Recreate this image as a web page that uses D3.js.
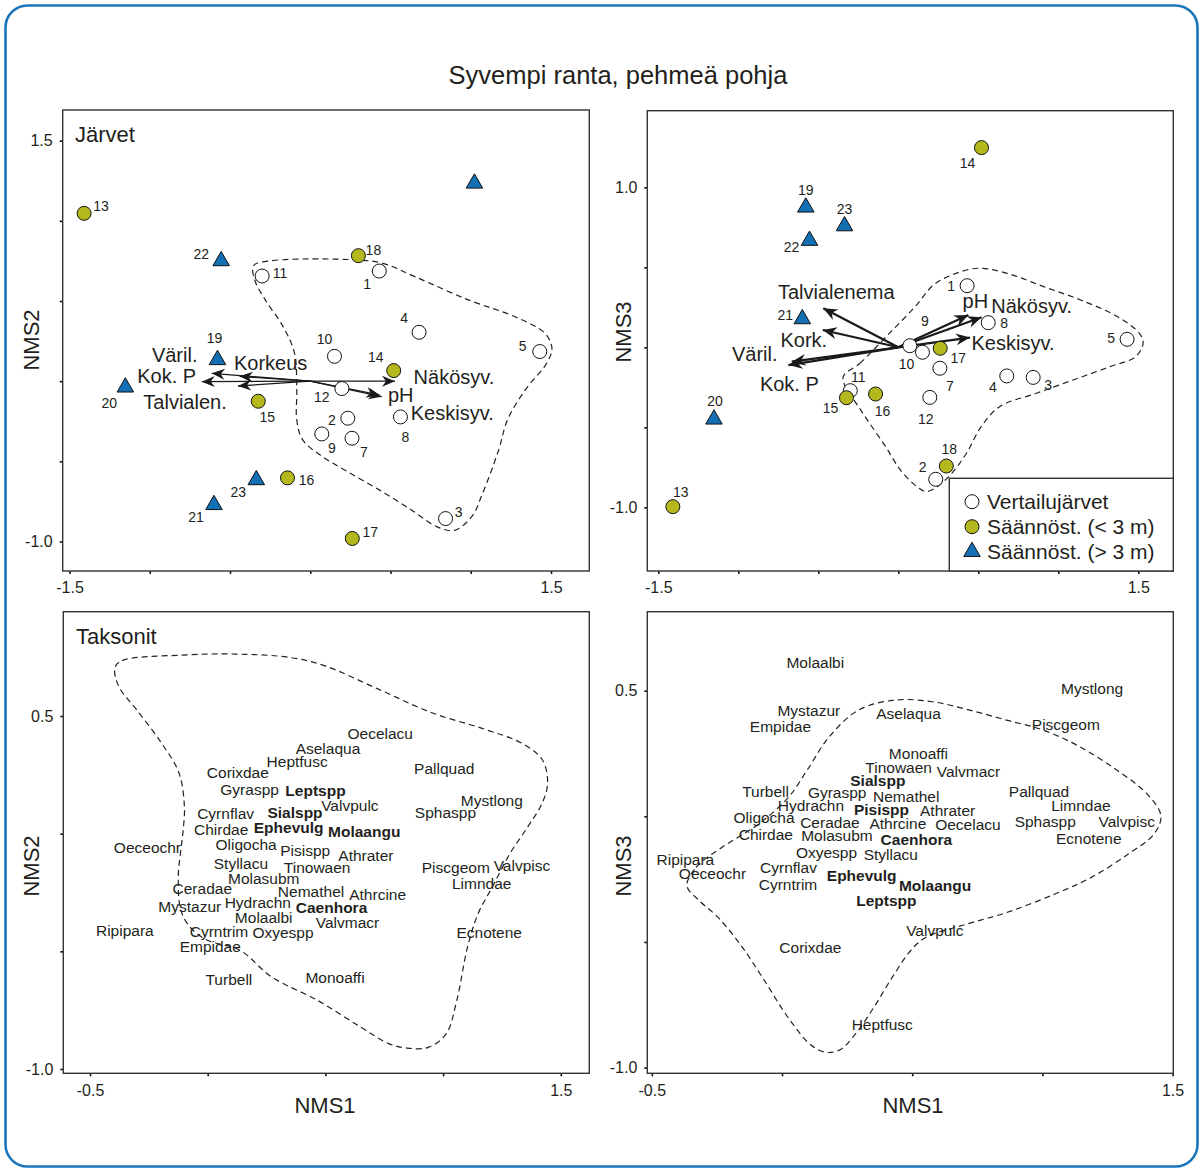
<!DOCTYPE html>
<html>
<head>
<meta charset="utf-8">
<script src="https://cdn.jsdelivr.net/npm/d3@7"></script>
<style>
  body { margin: 0; background: #fff; }
  svg { display: block; font-family: "Liberation Sans", Arial, Helvetica, sans-serif; }
</style>
</head>
<body>
<svg id="chart" width="1203" height="1173"></svg>
<script>
// ---------------- Lakes (sample units) ----------------
const lakeIds   = [1, 2, 3, 4, 5, 7, 8, 9, 10, 11, 12, 13, 14, 15, 16, 17, 18, 19, 20, 21, 22, 23];
const lakeGroup = ["ref","ref","ref","ref","ref","ref","ref","ref","ref","ref","ref",
                   "low","low","low","low","low","low",
                   "high","high","high","high","high"];
const lakeNMS1  = [0.43, 0.234, 0.843, 0.678, 1.43, 0.26, 0.562, 0.072, 0.151, -0.30, 0.197,
                   -1.409, 0.52, -0.324, -0.142, 0.262, 0.30,
                   -0.578, -1.152, -0.60, -0.555, -0.336];
const lakeNMS2  = [0.687, -0.231, -0.857, 0.305, 0.185, -0.356, -0.223, -0.329, 0.155, 0.656, -0.046,
                   1.047, 0.066, -0.125, -0.603, -0.981, 0.783,
                   0.133, -0.038, -0.771, 0.750, -0.616];
const lakeNMS3  = [0.385, -0.825, -0.188, -0.179, 0.050, -0.131, 0.154, 0.010, -0.031, -0.271, -0.313,
                   -0.996, 1.248, -0.315, -0.292, -0.006, -0.742,
                   0.875, -0.450, 0.177, 0.667, 0.758];
// extra unlabeled site shown only in the NMS1/NMS2 plot
const extraNMS1 = [1.023];
const extraNMS2 = [1.234];
const extraGroup = ["high"];

// ---------------- Environmental vectors ----------------
const envLabels12 = ["Väril.", "Kok. P", "Korkeus", "Talvialen.", "Näkösyv.", "pH", "Keskisyv."];
const envX12      = [-0.614, -0.676, -0.44, -0.45, 0.528, 0.445, 0.43];
const envY12      = [0.049, -0.003, 0.03, -0.03, 0.0, -0.097, -0.085];

const envLabels13 = ["Talvialenema", "Kork.", "Väril.", "Kok. P", "pH", "Näkösyv.", "Keskisyv."];
const envX13      = [-0.469, -0.472, -0.666, -0.687, 0.438, 0.521, 0.448];
const envY13      = [0.244, 0.108, -0.09, -0.111, 0.202, 0.188, 0.061];

// ---------------- Taxa ----------------
const taxa = ["Oecelacu","Aselaqua","Heptfusc","Corixdae","Pallquad","Gyraspp","Leptspp","Valvpulc",
  "Mystlong","Sphaspp","Cyrnflav","Sialspp","Chirdae","Ephevulg","Molaangu","Oeceochr","Oligocha",
  "Pisispp","Athrater","Styllacu","Tinowaen","Piscgeom","Valvpisc","Molasubm","Limndae","Ceradae",
  "Nemathel","Athrcine","Mystazur","Hydrachn","Caenhora","Molaalbi","Valvmacr","Ripipara","Cyrntrim",
  "Oxyespp","Ecnotene","Empidae","Turbell","Monoaffi"];
const taxaX12 = [0.733,0.511,0.380,0.128,1.005,0.178,0.458,0.604,1.207,1.010,0.076,0.371,0.057,0.344,
  0.665,-0.256,0.163,0.414,0.672,0.141,0.465,1.054,1.335,0.238,1.164,-0.023,0.439,0.722,-0.076,0.213,
  0.526,0.238,0.594,-0.352,0.048,0.320,1.196,0.011,0.090,0.541];
const taxaY12 = [0.426,0.362,0.305,0.261,0.278,0.187,0.183,0.119,0.140,0.088,0.085,0.088,0.019,0.024,
  0.009,-0.059,-0.047,-0.072,-0.093,-0.128,-0.143,-0.143,-0.136,-0.191,-0.212,-0.234,-0.244,-0.258,
  -0.308,-0.293,-0.315,-0.357,-0.379,-0.410,-0.414,-0.421,-0.419,-0.478,-0.620,-0.610];
const taxaX13 = [0.714,0.486,0.385,0.109,0.987,0.212,0.401,0.587,1.191,1.011,0.025,0.368,-0.062,0.306,
  0.588,-0.267,-0.069,0.382,0.636,0.418,0.448,1.090,1.324,0.211,1.148,0.184,0.477,0.445,0.103,0.111,
  0.516,0.128,0.716,-0.371,0.023,0.171,1.178,-0.006,-0.063,0.524];
const taxaY13 = [-0.033,0.409,-0.827,-0.523,0.099,0.094,-0.337,-0.456,0.509,-0.021,-0.203,0.143,-0.074,
  -0.237,-0.274,-0.227,-0.006,0.027,0.023,-0.154,0.196,0.367,-0.020,-0.078,0.043,-0.024,0.080,-0.028,
  0.419,0.043,-0.094,0.612,0.179,-0.174,-0.273,-0.146,-0.089,0.356,0.099,0.250];
const keyTaxa12 = ["Leptspp","Sialspp","Ephevulg","Molaangu","Caenhora"];
const keyTaxa13 = ["Sialspp","Pisispp","Caenhora","Ephevulg","Molaangu","Leptspp"];

// ---------------- Reference-lake envelopes ----------------
const hullLakesX12 = [-0.353,-0.235,0.297,0.453,0.652,0.985,1.273,1.462,1.506,1.473,1.340,1.229,1.174,
  1.074,1.007,0.896,0.785,0.630,0.430,0.231,0.075,-0.047,-0.084,-0.084,-0.098,-0.169,-0.280,-0.346];
const hullLakesY12 = [0.721,0.752,0.756,0.735,0.652,0.507,0.403,0.299,0.205,0.112,-0.054,-0.241,-0.429,
  -0.699,-0.844,-0.931,-0.906,-0.803,-0.678,-0.564,-0.470,-0.366,-0.242,-0.054,0.174,0.340,0.507,0.631];
const hullLakesX13 = [-0.344,-0.240,-0.056,0.105,0.220,0.334,0.495,0.679,0.909,1.139,1.369,1.507,1.530,
  1.484,1.323,1.093,0.863,0.633,0.518,0.426,0.334,0.243,0.174,0.116,0.013,-0.079,-0.194,-0.263,-0.321];
const hullLakesY13 = [-0.183,-0.100,0.0875,0.254,0.390,0.452,0.494,0.4625,0.379,0.296,0.192,0.0875,0.025,
  -0.058,-0.121,-0.204,-0.2875,-0.371,-0.496,-0.6625,-0.7875,-0.871,-0.902,-0.871,-0.767,-0.621,-0.454,-0.35,-0.267];
const hullTaxaX12 = [-0.394,-0.364,-0.107,0.120,0.347,0.498,0.725,0.952,1.179,1.331,1.421,1.444,1.421,
  1.361,1.285,1.210,1.149,1.104,1.058,1.013,0.937,0.846,0.771,0.650,0.468,0.272,0.135,-0.001,-0.076,
  -0.114,-0.125,-0.114,-0.104,-0.099,-0.122,-0.197,-0.303,-0.379];
const hullTaxaY12 = [0.706,0.735,0.759,0.763,0.749,0.713,0.614,0.514,0.443,0.386,0.315,0.216,0.130,
  0.031,-0.083,-0.225,-0.339,-0.481,-0.709,-0.851,-0.908,-0.911,-0.893,-0.822,-0.709,-0.609,-0.494,
  -0.453,-0.396,-0.325,-0.182,-0.069,0.017,0.116,0.258,0.386,0.528,0.628];
const hullTaxaX13 = [-0.365,-0.330,-0.230,-0.089,0.025,0.096,0.181,0.294,0.436,0.578,0.720,0.862,1.004,
  1.145,1.287,1.401,1.455,1.429,1.330,1.188,1.046,0.862,0.706,0.550,0.493,0.422,0.351,0.280,0.223,
  0.167,0.110,0.025,-0.074,-0.160,-0.245,-0.316];
const hullTaxaY13 = [-0.277,-0.203,-0.123,-0.030,0.076,0.183,0.316,0.423,0.463,0.456,0.423,0.383,0.343,
  0.276,0.183,0.090,0.003,-0.070,-0.150,-0.243,-0.310,-0.383,-0.430,-0.483,-0.536,-0.643,-0.763,
  -0.869,-0.929,-0.939,-0.909,-0.803,-0.643,-0.510,-0.403,-0.337];

// ---------------- Layout ----------------
const svg = d3.select("#chart");
const INK = "#231f20";
const FRAME = "#333333";
const COLORS = { ref: "#ffffff", low: "#b5b81c", high: "#1470b5" };

// label offsets (px) from a site marker to its number
const lakeLabelOffset12 = {13:[17,-7],22:[-20,-7],18:[15,-6],11:[18,-3],1:[-12,13],4:[-15,-14],5:[-17,-5],
  10:[-10,-17],14:[-18,-13],19:[-3,-22],20:[-16,16],12:[-20,9],15:[9,16],2:[-16,2],8:[5,20],9:[10,14],
  7:[12,14],16:[19,2],23:[-18,12],21:[-18,12],3:[13,-6],17:[18,-6]};
const lakeLabelOffset13 = {14:[-14,15],19:[0,-17],23:[0,-17],22:[-18,7],1:[-16,0],21:[-17,-4],8:[16,0],
  9:[15,-25],10:[-16,12],17:[18,10],7:[10,18],4:[-14,11],3:[15,8],5:[-16,-1],11:[8,-14],15:[-16,10],
  16:[7,17],12:[-4,22],20:[1,-18],18:[3,-17],2:[-13,-12],13:[8,-15]};
// label offsets (px) from a vector tip to its label centre
const envLabelOffset12 = [[-37,-18],[-35,-6],[31,-13],[-53,16],[59,-4],[19,-2],[73,18.5]];
const envLabelOffset13 = [[13,-16],[-19,10],[-37,-8],[1,19],[7,-14],[50,-11],[43,5]];

const panels = {
  p1: { box: [62.7, 110, 589.3, 571], xd: [-1.5, 1.5], xr: [69.5, 551], yd: [-1, 1.5], yr: [541.5, 140.7],
        xt: [-1.5,-1,-0.5,0,0.5,1,1.5], yt: [-1,-0.5,0,0.5,1,1.5], xl: [-1.5,1.5], yl: [-1,1.5] },
  p2: { box: [647.3, 110.7, 1173.3, 571], xd: [-1.5, 1.5], xr: [658.3, 1138.3], yd: [-1, 1], yr: [507.3, 187.3],
        xt: [-1.5,-1,-0.5,0,0.5,1,1.5], yt: [-1,-0.5,0,0.5,1], xl: [-1.5,1.5], yl: [-1,1] },
  p3: { box: [63.3, 611.7, 589.3, 1073.3], xd: [-0.5, 1.5], xr: [90, 560.8], yd: [-1, 0.5], yr: [1069, 716],
        xt: [-0.5,0,0.5,1,1.5], yt: [-1,-0.5,0,0.5], xl: [-0.5,1.5], yl: [-1,0.5] },
  p4: { box: [647.3, 611.7, 1173.3, 1073.3], xd: [-0.5, 1.5], xr: [651.8, 1172.6], yd: [-1, 0.5], yr: [1067.6, 690.7],
        xt: [-0.5,0,0.5,1,1.5], yt: [-1,-0.5,0,0.5], xl: [-0.5,1.5], yl: [-1,0.5] }
};
Object.values(panels).forEach(p => {
  p.x = d3.scaleLinear().domain(p.xd).range(p.xr);
  p.y = d3.scaleLinear().domain(p.yd).range(p.yr);
});

// outer rounded frame
svg.append("rect").attr("x", 5.5).attr("y", 5.5).attr("width", 1192).attr("height", 1161)
  .attr("rx", 22).attr("ry", 22).attr("fill", "#fff").attr("stroke", "#1b75bb").attr("stroke-width", 2.6);

svg.append("text").attr("x", 618).attr("y", 84).attr("text-anchor", "middle")
  .attr("font-size", 25.5).attr("fill", INK).text("Syvempi ranta, pehmeä pohja");

// arrowhead markers
const defs = svg.append("defs");
function arrowMarker(id, len, half, notch) {
  defs.append("marker").attr("id", id).attr("markerUnits", "userSpaceOnUse")
    .attr("viewBox", `${-len - 1} ${-half - 1} ${len + 2} ${2 * half + 2}`)
    .attr("markerWidth", len + 2).attr("markerHeight", 2 * half + 2)
    .attr("refX", 0).attr("refY", 0).attr("orient", "auto")
    .append("path").attr("d", `M0,0 L${-len},${-half} L${-notch},0 L${-len},${half} Z`).attr("fill", "#1a1a1a");
}
arrowMarker("headThin", 13, 5.5, 9);
arrowMarker("headThick", 14, 6, 9.5);

const fmt = d => d.toFixed(1);

function frame(p, xTitle, yTitle, yTitlePos, xTitlePos) {
  const g = svg.append("g");
  const [x0, y0, x1, y1] = p.box;
  const xAxis = d3.axisBottom(p.x).tickValues(p.xt).tickSize(3).tickPadding(8)
    .tickFormat(d => p.xl.includes(d) ? fmt(d) : "");
  const yAxis = d3.axisLeft(p.y).tickValues(p.yt).tickSize(3).tickPadding(7)
    .tickFormat(d => p.yl.includes(d) ? fmt(d) : "");
  const gx = g.append("g").attr("transform", `translate(0,${y1})`).call(xAxis);
  const gy = g.append("g").attr("transform", `translate(${x0},0)`).call(yAxis);
  [gx, gy].forEach(a => {
    a.select(".domain").remove();
    a.selectAll("line").attr("stroke", "#111").attr("stroke-width", 1.6);
    a.selectAll("text").attr("font-size", 16).attr("fill", INK)
      .attr("font-family", '"Liberation Sans", Arial, sans-serif');
  });
  g.append("rect").attr("x", x0).attr("y", y0).attr("width", x1 - x0).attr("height", y1 - y0)
    .attr("fill", "none").attr("stroke", FRAME).attr("stroke-width", 1.4);
  if (yTitle) {
    g.append("text").attr("transform", `translate(${yTitlePos[0]},${yTitlePos[1]}) rotate(-90)`)
      .attr("text-anchor", "middle").attr("dy", "0.35em").attr("font-size", 22).attr("fill", INK).text(yTitle);
  }
  if (xTitle) {
    g.append("text").attr("x", xTitlePos[0]).attr("y", xTitlePos[1]).attr("text-anchor", "middle")
      .attr("dy", "0.35em").attr("font-size", 22).attr("fill", INK).text(xTitle);
  }
  return g;
}

function hull(p, xs, ys) {
  const line = d3.line().x(i => p.x(xs[i])).y(i => p.y(ys[i]))
    .curve(d3.curveCatmullRomClosed.alpha(0.5));
  svg.append("path").attr("d", line(d3.range(xs.length)))
    .attr("fill", "none").attr("stroke", "#222").attr("stroke-width", 1.2).attr("stroke-dasharray", "6,4");
}

function marker(g, group, cx, cy) {
  if (group === "high") {
    g.append("path").attr("d", d3.symbol(d3.symbolTriangle, 118)())
      .attr("transform", `translate(${cx},${cy})`)
      .attr("fill", COLORS.high).attr("stroke", "#111").attr("stroke-width", 1);
  } else {
    g.append("circle").attr("cx", cx).attr("cy", cy).attr("r", 7)
      .attr("fill", COLORS[group]).attr("stroke", "#111").attr("stroke-width", 1);
  }
}

function vectors(p, xs, ys, labels, offsets, head, width) {
  const g = svg.append("g");
  xs.forEach((vx, i) => {
    g.append("line").attr("x1", p.x(0)).attr("y1", p.y(0)).attr("x2", p.x(vx)).attr("y2", p.y(ys[i]))
      .attr("stroke", "#1a1a1a").attr("stroke-width", width).attr("marker-end", `url(#${head})`);
  });
  xs.forEach((vx, i) => {
    g.append("text").attr("x", p.x(vx) + offsets[i][0]).attr("y", p.y(ys[i]) + offsets[i][1])
      .attr("text-anchor", "middle").attr("dy", "0.35em").attr("font-size", 20).attr("fill", INK)
      .text(labels[i]);
  });
}

function sites(p, ys, offsets) {
  const g = svg.append("g");
  lakeIds.forEach((id, i) => {
    const cx = p.x(lakeNMS1[i]), cy = p.y(ys[i]);
    marker(g, lakeGroup[i], cx, cy);
    const o = offsets[id];
    g.append("text").attr("x", cx + o[0]).attr("y", cy + o[1]).attr("text-anchor", "middle")
      .attr("dy", "0.35em").attr("font-size", 14).attr("fill", INK).text(id);
  });
  return g;
}

function taxaLabels(p, xs, ys, bold) {
  const g = svg.append("g");
  taxa.forEach((t, i) => {
    g.append("text").attr("x", p.x(xs[i])).attr("y", p.y(ys[i])).attr("text-anchor", "middle")
      .attr("dy", "0.35em").attr("font-size", 15.5).attr("fill", INK)
      .attr("font-weight", bold.includes(t) ? "bold" : "normal").text(t);
  });
}

// ---- Panel 1: lakes, NMS1 x NMS2 ----
const P1 = panels.p1;
frame(P1, null, "NMS2", [31, 340], null);
svg.append("text").attr("x", 75).attr("y", 141.7).attr("font-size", 22).attr("fill", INK).text("Järvet");
hull(P1, hullLakesX12, hullLakesY12);
vectors(P1, envX12, envY12, envLabels12, envLabelOffset12, "headThin", 1.3);
const g1 = sites(P1, lakeNMS2, lakeLabelOffset12);
extraNMS1.forEach((v, i) => marker(g1, extraGroup[i], P1.x(v), P1.y(extraNMS2[i])));

// ---- Panel 2: lakes, NMS1 x NMS3 ----
const P2 = panels.p2;
frame(P2, null, "NMS3", [623, 332], null);
hull(P2, hullLakesX13, hullLakesY13);
vectors(P2, envX13, envY13, envLabels13, envLabelOffset13, "headThick", 2.2);
sites(P2, lakeNMS3, lakeLabelOffset13);

// legend
const legendItems = [["ref", "Vertailujärvet"], ["low", "Säännöst. (< 3 m)"], ["high", "Säännöst. (> 3 m)"]];
const lg = svg.append("g");
lg.append("rect").attr("x", 949.3).attr("y", 478.3).attr("width", 1173.3 - 949.3).attr("height", 571 - 478.3)
  .attr("fill", "#fff").attr("stroke", FRAME).attr("stroke-width", 1.4);
legendItems.forEach(([grp, txt], i) => {
  const cy = 501.7 + i * 25;
  marker(lg, grp, 972, cy);
  lg.append("text").attr("x", 987).attr("y", cy).attr("dy", "0.35em").attr("font-size", 21)
    .attr("fill", INK).text(txt);
});

// ---- Panel 3: taxa, NMS1 x NMS2 ----
const P3 = panels.p3;
frame(P3, "NMS1", "NMS2", [31, 866], [325, 1105]);
svg.append("text").attr("x", 76).attr("y", 643.5).attr("font-size", 22).attr("fill", INK).text("Taksonit");
hull(P3, hullTaxaX12, hullTaxaY12);
taxaLabels(P3, taxaX12, taxaY12, keyTaxa12);

// ---- Panel 4: taxa, NMS1 x NMS3 ----
const P4 = panels.p4;
frame(P4, "NMS1", "NMS3", [623, 866], [913, 1105]);
hull(P4, hullTaxaX13, hullTaxaY13);
taxaLabels(P4, taxaX13, taxaY13, keyTaxa13);
</script>
</body>
</html>
